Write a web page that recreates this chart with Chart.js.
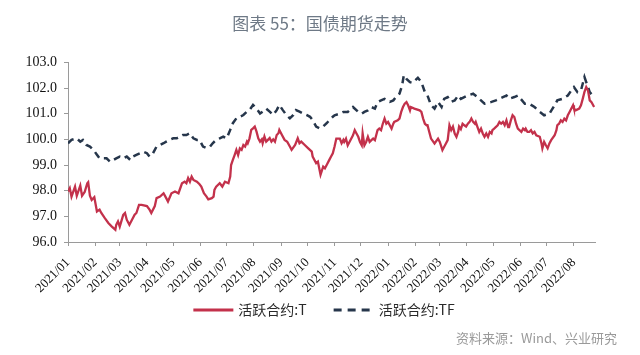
<!DOCTYPE html>
<html><head><meta charset="utf-8">
<script src="https://cdn.jsdelivr.net/npm/chart.js@4.4.1/dist/chart.umd.min.js"></script>
<style>html,body{margin:0;padding:0;background:#fff;}#wrap{width:640px;height:355px;}</style>
</head><body><div id="wrap"><canvas id="c" width="640" height="355"></canvas></div>
<script>
// x values are day offsets from 2021-01-01
const baseDate = '2021-01-01';
const monthDays = [0,31,59,90,120,151,181,212,243,273,304,334,365,396,424,455,485,516,546,577];
const monthLabels = ['2021/01','2021/02','2021/03','2021/04','2021/05','2021/06','2021/07','2021/08','2021/09','2021/10','2021/11','2021/12','2022/01','2022/02','2022/03','2022/04','2022/05','2022/06','2022/07','2022/08'];
const yTickValues = [96,97,98,99,100,101,102,103];
const seriesNames = ['活跃合约:T','活跃合约:TF'];
const titleText = '图表 55：国债期货走势';
const sourceText = '资料来源：Wind、兴业研究';

const tDays = [0,2,4,8,10,14,16,19,22,23,
25,27,30,33,36,38,42,46,50,54,
55,57,59,63,65,67,70,73,76,78,
81,84,90,93,95,99,101,105,109,112,
114,118,122,126,130,133,135,137,139,141,
143,147,150,152,155,158,160,164,166,167,
169,173,176,179,183,185,186,188,190,192,
194,196,198,200,202,204,205,207,209,211,
213,215,217,219,221,222,224,226,228,230,
232,234,236,238,240,241,244,247,250,253,
255,259,262,264,266,270,274,278,279,283,
285,288,291,293,295,298,300,302,304,306,
310,312,314,315,317,319,321,325,327,329,
331,333,335,336,338,340,342,344,346,348,
350,352,353,355,357,359,361,363,365,369,
371,372,376,378,380,382,384,386,388,390,
391,395,401,403,405,407,409,410,412,414,
418,422,424,427,429,431,433,435,437,439,
441,443,445,446,448,450,452,454,456,458,
460,462,464,465,467,469,471,473,475,477,
479,481,483,484,486,490,492,494,496,498,
500,502,503,505,507,509,511,513,517,519,
521,522,524,526,528,530,532,534,538,540,
541,543,545,547,549,551,555,557,558,560,
562,564,566,568,570,572,574,576,577,579,
583,585,587,589,591,593,595,597,598,600];
const tValues = [97.97,98.1,97.77,98.16,97.8,98.2,97.8,97.95,98.29,98.33,
97.8,97.64,97.75,97.19,97.26,97.13,96.93,96.74,96.6,96.48,
96.67,96.8,96.6,97.06,97.13,96.87,96.67,96.87,97.06,97.13,
97.45,97.45,97.4,97.26,97.13,97.4,97.71,97.77,97.9,97.71,
97.58,97.9,97.97,97.9,98.29,98.35,98.29,98.49,98.35,98.55,
98.42,98.35,98.25,98.16,97.9,97.77,97.66,97.71,97.77,98.03,
98.16,98.29,98.16,98.35,98.29,98.55,99.0,99.2,99.39,99.59,
99.39,99.65,99.59,99.78,99.72,99.91,99.85,100.04,100.37,100.43,
100.5,100.3,100.04,99.91,100.0,99.85,100.11,99.91,99.98,100.05,
99.91,100.0,99.91,100.17,100.24,100.37,100.17,99.98,99.91,99.72,
99.59,99.78,100.04,99.85,99.91,99.78,99.65,99.52,99.33,99.07,
99.13,98.62,98.94,98.87,99.0,99.2,99.33,99.46,99.72,100.03,
100.03,99.85,99.98,99.9,100.03,99.77,99.9,100.16,100.36,100.23,
100.1,99.9,99.77,100.23,99.77,99.9,100.1,99.9,99.97,100.03,
99.97,100.23,100.36,100.42,100.36,100.61,100.81,100.61,100.68,100.42,
100.61,100.68,100.74,100.81,101.07,101.26,101.39,101.45,101.32,101.13,
101.26,101.2,101.13,101.07,100.81,100.61,100.55,100.55,100.29,100.03,
99.84,100.03,99.9,99.58,99.71,99.84,99.97,100.55,100.36,100.5,
100.23,100.1,100.3,100.5,100.4,100.61,100.55,100.5,100.61,100.68,
100.81,100.68,100.61,100.68,100.48,100.29,100.42,100.23,100.1,100.23,
100.1,100.29,100.23,100.36,100.42,100.55,100.68,100.61,100.68,100.55,
100.74,100.48,100.48,100.74,100.94,100.87,100.61,100.42,100.29,100.42,
100.36,100.42,100.29,100.29,100.36,100.23,100.29,100.16,100.1,99.84,
99.65,99.9,99.77,99.65,99.84,99.97,100.16,100.36,100.55,100.61,
100.74,100.68,100.81,100.74,100.94,101.07,101.2,101.33,101.2,101.13,
101.2,101.33,101.58,101.85,102.04,101.91,101.52,101.45,101.39,101.26];

const tfDays = [0,4,10,14,17,21,25,29,33,36,
40,44,48,52,55,59,63,67,71,74,
78,82,86,90,93,97,101,105,109,112,
116,120,124,128,131,135,139,143,147,150,
154,158,162,165,169,173,177,181,185,188,
192,196,200,204,207,211,215,219,222,226,
230,234,238,241,245,249,253,257,260,264,
268,272,276,279,283,287,291,295,298,302,
304,310,314,319,325,331,335,338,342,346,
350,353,357,361,367,371,374,378,381,383,
386,390,393,399,403,407,410,414,418,422,
426,429,433,437,441,445,448,456,462,467,
475,483,488,496,500,503,509,513,521,526,
532,538,543,549,555,558,564,570,574,577,
581,585,589,591,593,595,598,600];
const tfValues = [99.85,99.98,100.04,99.91,99.98,99.78,99.72,99.59,99.4,99.26,
99.26,99.26,99.13,99.2,99.26,99.33,99.26,99.33,99.2,99.33,
99.4,99.46,99.52,99.46,99.33,99.46,99.72,99.78,99.85,99.91,
99.98,100.04,100.04,100.11,100.17,100.17,100.24,100.04,99.98,99.98,
99.72,99.66,99.72,99.85,99.98,100.04,100.11,100.04,100.37,100.63,
100.82,100.88,100.95,101.08,101.14,101.34,101.2,101.01,101.08,101.2,
101.08,100.95,101.14,101.34,101.14,100.95,100.82,100.95,101.14,101.08,
101.01,100.95,100.88,100.75,100.5,100.43,100.5,100.63,100.75,100.88,
100.94,101.0,101.07,101.07,101.26,101.07,101.0,101.07,101.13,101.26,
101.2,101.45,101.52,101.58,101.46,101.52,101.65,101.78,102.1,102.5,
102.36,102.23,102.2,102.4,102.23,101.84,101.71,101.33,101.2,101.46,
101.26,101.58,101.65,101.46,101.52,101.71,101.58,101.71,101.78,101.65,
101.39,101.46,101.52,101.65,101.71,101.58,101.65,101.71,101.39,101.39,
101.26,101.07,100.94,101.0,101.33,101.52,101.58,101.71,101.91,102.04,
101.84,101.91,102.43,102.23,102.04,101.84,101.72,101.7];

const toPoints = (xs, ys) => xs.map((d, i) => ({x: d, y: ys[i]}));

// legend + source note drawn from the dataset styles
const legendNotePlugin = {
  id: 'legendNote',
  afterDraw(chart, args, o) {
    const ctx = chart.ctx;
    ctx.save();
    ctx.font = o.font;
    const items = chart.data.datasets.map(ds => ({ds, w: ctx.measureText(ds.label).width}));
    const total = items.reduce((s, it) => s + o.sampleWidth + o.textGap + it.w, 0) + o.itemGap * (items.length - 1);
    let x = o.centerX - total / 2;
    const y = o.y;
    ctx.textBaseline = 'middle';
    ctx.textAlign = 'left';
    items.forEach(it => {
      ctx.strokeStyle = it.ds.borderColor;
      ctx.lineWidth = o.sampleLine;
      ctx.setLineDash(it.ds.borderDash ? o.sampleDash : []);
      ctx.beginPath(); ctx.moveTo(x, y); ctx.lineTo(x + o.sampleWidth, y); ctx.stroke();
      ctx.setLineDash([]);
      x += o.sampleWidth + o.textGap;
      ctx.fillStyle = o.color;
      ctx.fillText(it.ds.label, x, y);
      x += it.w + o.itemGap;
    });
    ctx.font = o.noteFont;
    ctx.fillStyle = o.noteColor;
    ctx.textAlign = 'right';
    ctx.fillText(sourceText, o.noteRight, o.noteY);
    ctx.restore();
  }
};

new Chart(document.getElementById('c'), {
  type: 'line',
  data: {
    datasets: [
      {label: seriesNames[0], data: toPoints(tDays, tValues), borderColor: '#c3314b', backgroundColor: '#c3314b',
       borderWidth: 2.3, pointRadius: 0, tension: 0, fill: false, yAxisID: 'y'},
      {label: seriesNames[1], data: toPoints(tfDays, tfValues), borderColor: '#26364b', backgroundColor: '#26364b',
       borderWidth: 2.5, borderDash: [7, 5], pointRadius: 0, tension: 0, fill: false, yAxisID: 'y'}
    ]
  },
  plugins: [legendNotePlugin],
  options: {
    responsive: false, animation: false, devicePixelRatio: 1,
    layout: {padding: {left: 0, right: 0, top: 0, bottom: 61}},
    plugins: {
      title: {display: true, text: titleText, color: '#6e7986',
        font: {family: "'Noto Sans CJK SC'", size: 17, weight: 'normal'}, padding: {top: 13, bottom: 29}},
      legend: {display: false},
      tooltip: {enabled: false},
      legendNote: {font: "14px 'Noto Sans CJK SC'", color: '#2a2a2a', centerX: 324, y: 310,
        sampleWidth: 40, sampleLine: 3, sampleDash: [8, 6], textGap: 5, itemGap: 27,
        noteFont: "13px 'Noto Sans CJK SC'", noteColor: '#9a9a9a', noteRight: 617, noteY: 338}
    },
    scales: {
      x: {type: 'linear', min: 0, max: 601,
        afterBuildTicks: s => { s.ticks = monthDays.map(v => ({value: v})); },
        afterFit: s => { s.height = 52; },
        ticks: {autoSkip: false, minRotation: 45, maxRotation: 45, padding: 9, color: '#111',
          font: {family: "'Liberation Serif'", size: 13},
          callback: (v, i) => monthLabels[i]},
        grid: {drawOnChartArea: false, drawTicks: true, tickLength: 4, color: '#9a9a9a'},
        border: {color: '#9a9a9a', width: 1}},
      y: {min: 96, max: 103,
        afterBuildTicks: s => { s.ticks = yTickValues.map(v => ({value: v})); },
        afterFit: s => { s.width = 68; },
        ticks: {color: '#111', padding: 7, font: {family: "'Liberation Serif'", size: 14},
          callback: v => Number(v).toFixed(1)},
        grid: {drawOnChartArea: false, drawTicks: true, tickLength: 4, color: '#9a9a9a'},
        border: {color: '#9a9a9a', width: 1}},
      yR: {position: 'right', min: 96, max: 103, display: true,
        afterFit: s => { s.width = 45; },
        ticks: {display: false}, grid: {display: false}, border: {display: false}}
    }
  }
});
</script></body></html>
